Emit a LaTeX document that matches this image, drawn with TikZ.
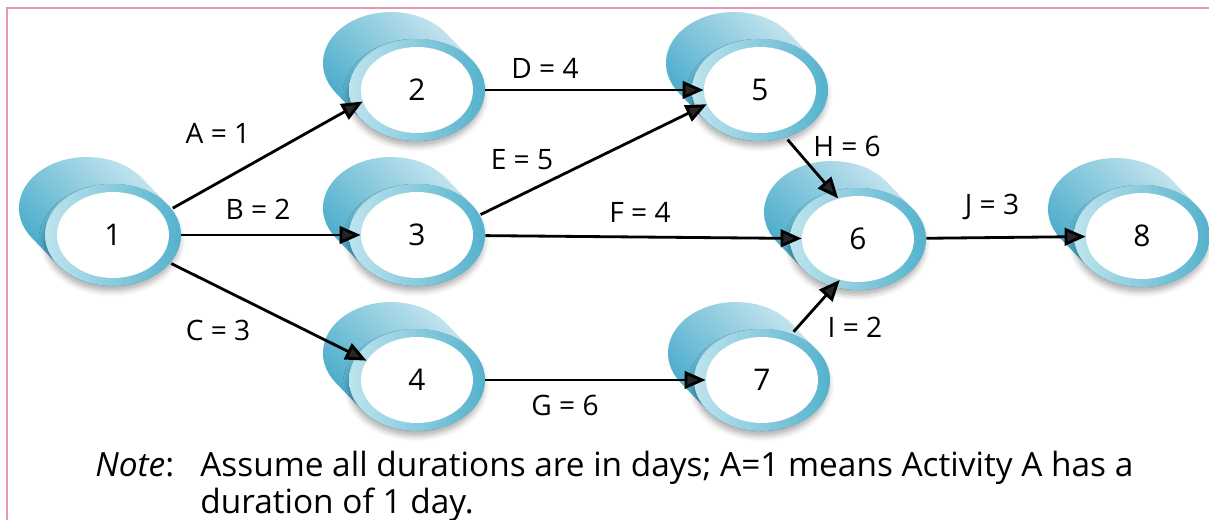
\documentclass[tikz,border=0pt]{standalone}
\usepackage{fontspec}
\setsansfont{Open Sans}
\usetikzlibrary{arrows.meta, positioning,
    shapes.geometric, shadows.blur}
\definecolor{drumdark}{RGB}{58,164,198}
\definecolor{drumlight}{RGB}{212,236,243}
\definecolor{ringlight}{RGB}{190,228,238}
\definecolor{ringdark}{RGB}{84,178,205}
\definecolor{framepink}{RGB}{228,150,180}

% cylinder body and front ring behind an event node
\newcommand{\drum}[2]{%
  \shade[top color=drumlight, bottom color=drumdark, shading angle=-45]
    ({#1+55.1},{#2+29.8}) -- ++(-26,27)
    arc[start angle=35.8, end angle=215.8, x radius=68, y radius=51]
    -- ++(26,-27)
    arc[start angle=215.8, end angle=395.8, x radius=68, y radius=51]
    -- cycle;
  \path[ring] (#1,#2) ellipse [x radius=68, y radius=51];
}

\begin{document}
\begin{tikzpicture}[
    x=0.02cm, y=0.02cm,
    evt/.style={
        ellipse, fill=white,
        minimum width=2.24cm,
        minimum height=1.72cm,
        inner sep=0pt,
        font=\sffamily\fontsize{17}{20}\selectfont
    },
    ring/.style={
        left color=ringlight, right color=ringdark,
        blur shadow={shadow xshift=-0.5pt, shadow yshift=-3pt,
            shadow opacity=30, shadow blur radius=3pt}
    },
    act/.style={
        -{Triangle[length=12pt, width=10pt]},
        line width=1.6pt,
        shorten <=0.24cm
    },
    lbl/.style={font=\sffamily\fontsize{16}{19}\selectfont},
    notefont/.style={font=\sffamily\fontsize{19}{23}\selectfont}
]
\useasboundingbox (0,0) rectangle (1209,520);
\draw[framepink, line width=0.04cm] (7,0) -- (7,512) -- (1209,512);

\foreach \n/\x/\y in {1/113/285, 2/417/430, 3/417/285,
                      4/417/140, 5/760/430, 6/858/281,
                      7/762/140, 8/1142/284}{
    \drum{\x}{\y}
    \node[evt] (n\n) at (\x,\y) {\n};
}

\draw[act] (n1.23) -- (n2.192);
\draw[act] (n1) -- (n3);
\draw[act] (n1.-26) -- (n4.159);
\draw[act] (n2) -- (n5);
\draw[act] (n3.16) -- (n5.195);
\draw[act] (n3) -- (n6);
\draw[act] (n4) -- (n7);
\draw[act] (n5.-64) -- (n6.116);
\draw[act] (n7.59) -- (n6.246);
\draw[act] (n6) -- (n8);

\node[lbl] (lA) at (218,387) {A = 1};
\node[lbl] (lB) at (258,311) {B = 2};
\node[lbl] (lC) at (218,190) {C = 3};
\node[lbl] (lD) at (545,452) {D = 4};
\node[lbl] (lE) at (522,360) {E = 5};
\node[lbl] (lF) at (640,308) {F = 4};
\node[lbl] (lG) at (565,115) {G = 6};
\node[lbl] (lH) at (847,374) {H = 6};
\node[lbl] (lI) at (855,193) {I = 2};
\node[lbl] (lJ) at (992,313) {J = 3};

\node[notefont, anchor=base west, inner sep=0pt]
    (note) at (95,43) {\textit{Note}:};
\node[notefont, anchor=base west, inner sep=0pt]
    (note1) at (200,43)
    {Assume all durations are in days; A=1 means Activity A has a};
\node[notefont, anchor=base west, inner sep=0pt]
    (note2) at (200,7) {duration of 1 day.};
\end{tikzpicture}
\end{document}
